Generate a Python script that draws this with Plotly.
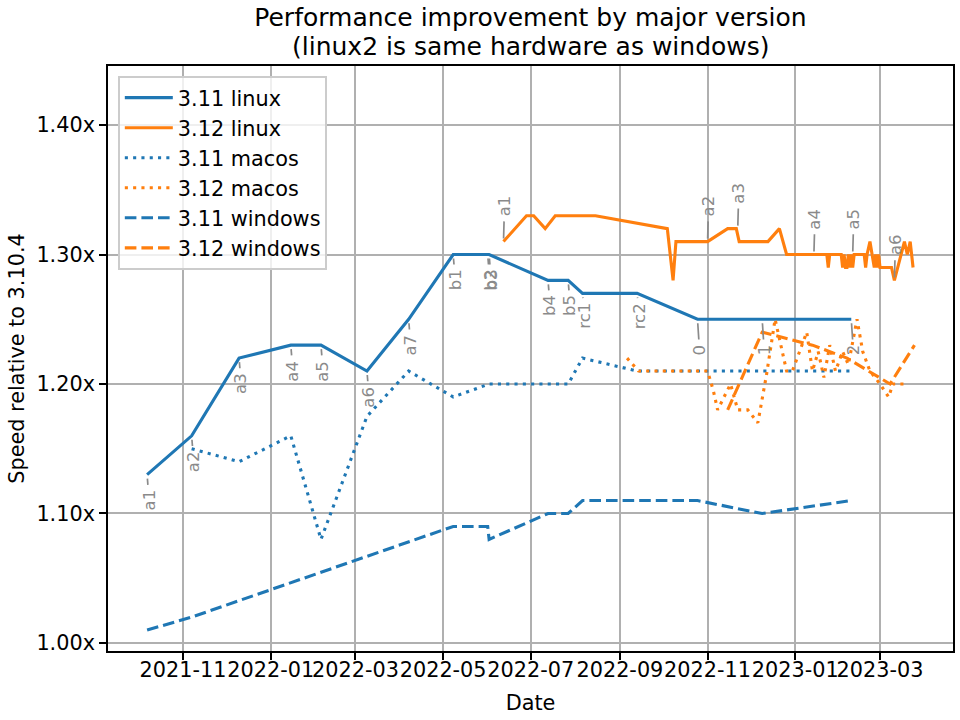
import plotly.graph_objects as go

# ---------------- data ----------------
labels_311 = ["a1", "a2", "a3", "a4", "a5", "a6", "a7", "b1", "b2", "b3",
              "b4", "b5", "rc1", "rc2", "0", "1", "2"]
dates_311 = ["2021-10-07", "2021-11-07", "2021-12-10", "2022-01-15", "2022-02-05",
             "2022-03-09", "2022-04-07", "2022-05-08", "2022-06-01", "2022-06-02",
             "2022-07-13", "2022-07-27", "2022-08-06", "2022-09-13", "2022-10-25",
             "2022-12-09", "2023-02-09"]
linux_311 = [1.13, 1.16, 1.22, 1.23, 1.23, 1.21, 1.25, 1.30, 1.30, 1.30,
             1.28, 1.28, 1.27, 1.27, 1.25, 1.25, 1.25]
macos_311 = [None, 1.15, 1.14, 1.16, 1.08, 1.175, 1.21, 1.19, 1.20, 1.20,
             1.20, 1.20, 1.22, 1.21, 1.21, 1.21, 1.21]
windows_311 = [1.01, 1.02, None, None, None, None, None, 1.09, 1.09, 1.08,
               1.10, 1.10, 1.11, 1.11, 1.11, 1.10, 1.11]

dates_312_linux = ["2022-06-12", "2022-06-28", "2022-07-03", "2022-07-11", "2022-07-18",
                   "2022-08-15", "2022-10-04", "2022-10-08", "2022-10-10", "2022-11-01",
                   "2022-11-15", "2022-11-21", "2022-11-23", "2022-12-13", "2022-12-21",
                   "2022-12-26", "2023-01-23", "2023-01-24", "2023-01-25", "2023-02-02",
                   "2023-02-03", "2023-02-04", "2023-02-05", "2023-02-06", "2023-02-07",
                   "2023-02-08", "2023-02-09", "2023-02-10", "2023-02-11", "2023-02-18",
                   "2023-02-19", "2023-02-20", "2023-02-22", "2023-02-25", "2023-02-26",
                   "2023-02-27", "2023-02-28", "2023-03-01", "2023-03-09", "2023-03-11",
                   "2023-03-18", "2023-03-20", "2023-03-22", "2023-03-24"]
linux_312 = [1.31, 1.33, 1.33, 1.32, 1.33, 1.33, 1.32, 1.28, 1.31, 1.31,
             1.32, 1.32, 1.31, 1.31, 1.32, 1.30, 1.30, 1.29, 1.30, 1.30,
             1.29, 1.30, 1.29, 1.29, 1.30, 1.29, 1.30, 1.29, 1.30, 1.30,
             1.29, 1.30, 1.31, 1.29, 1.30, 1.29, 1.30, 1.29, 1.29, 1.28,
             1.31, 1.30, 1.31, 1.29]

dates_312_macos = ["2022-09-06", "2022-09-10", "2022-09-14", "2022-11-01", "2022-11-05",
                   "2022-11-08", "2022-11-17", "2022-11-22", "2022-11-29", "2022-12-06",
                   "2022-12-12", "2022-12-18", "2022-12-26", "2022-12-30", "2023-01-09",
                   "2023-01-13", "2023-01-17", "2023-01-21", "2023-01-25", "2023-01-29",
                   "2023-02-03", "2023-02-07", "2023-02-13", "2023-02-17", "2023-02-22",
                   "2023-03-01", "2023-03-07", "2023-03-10", "2023-03-18"]
macos_312 = [1.22, 1.215, 1.21, 1.21, 1.195, 1.18, 1.20, 1.18, 1.18, 1.17,
             1.207, 1.25, 1.21, 1.21, 1.24, 1.21, 1.225, 1.205, 1.23, 1.21,
             1.225, 1.215, 1.25, 1.225, 1.21, 1.20, 1.19, 1.20, 1.20]

dates_312_windows = ["2022-11-15", "2022-12-09", "2023-01-13", "2023-02-06",
                     "2023-03-08", "2023-03-25"]
windows_312 = [1.18, 1.24, 1.23, 1.22, 1.20, 1.23]

labels_312 = ["a1", "a2", "a3", "a4", "a5", "a6"]
label_dates_312 = ["2022-06-12", "2022-11-01", "2022-11-22", "2023-01-14",
                   "2023-02-10", "2023-03-11"]
label_values_312 = [1.31, 1.31, 1.32, 1.30, 1.30, 1.28]

title_line1 = "Performance improvement by major version"
title_line2 = "(linux2 is same hardware as windows)"

# ---------------- style ----------------
C0 = "#1f77b4"
C1 = "#ff7f0e"
LW = 3.1
DOT = "3.1px,5.2px"
DASH = "11.6px,5px"
FONT = "DejaVu Sans"
GRAY = "#8a8a8a"
ANN_SIZE = 16.5
CHAR_W = {"a": 0.613, "b": 0.635, "r": 0.411, "c": 0.550}


def text_len(s):
    return sum(CHAR_W.get(ch, 0.636) for ch in s) * ANN_SIZE


fig = go.Figure()
fig.add_trace(go.Scatter(x=dates_311, y=linux_311, name="3.11 linux", mode="lines",
                         line=dict(color=C0, width=LW)))
fig.add_trace(go.Scatter(x=dates_312_linux, y=linux_312, name="3.12 linux", mode="lines",
                         line=dict(color=C1, width=LW)))
fig.add_trace(go.Scatter(x=dates_311, y=macos_311, name="3.11 macos", mode="lines",
                         connectgaps=True, line=dict(color=C0, width=LW, dash=DOT)))
fig.add_trace(go.Scatter(x=dates_312_macos, y=macos_312, name="3.12 macos", mode="lines",
                         line=dict(color=C1, width=LW, dash=DOT)))
fig.add_trace(go.Scatter(x=dates_311, y=windows_311, name="3.11 windows", mode="lines",
                         connectgaps=True, line=dict(color=C0, width=LW, dash=DASH)))
fig.add_trace(go.Scatter(x=dates_312_windows, y=windows_312, name="3.12 windows", mode="lines",
                         line=dict(color=C1, width=LW, dash=DASH)))

annotations = []
# 3.11 labels: text below the point, its lower end ~36px under the point
for lab, d, v in zip(labels_311, dates_311, linux_311):
    annotations.append(dict(x=d, y=v, xref="x", yref="y", text=lab, textangle=-90,
                            showarrow=True, arrowhead=0, arrowwidth=1.7, arrowcolor=GRAY,
                            ax=2, ay=36 - text_len(lab) / 2, standoff=4, borderpad=5,
                            borderwidth=0,
                            font=dict(family=FONT, size=ANN_SIZE, color=GRAY)))
# 3.12 labels: text above the point, its upper end ~46px over the point
for lab, d, v in zip(labels_312, label_dates_312, label_values_312):
    annotations.append(dict(x=d, y=v, xref="x", yref="y", text=lab, textangle=-90,
                            showarrow=True, arrowhead=0, arrowwidth=1.7, arrowcolor=GRAY,
                            ax=1, ay=-(46 - text_len(lab) / 2), standoff=3, borderpad=5,
                            borderwidth=0,
                            font=dict(family=FONT, size=ANN_SIZE, color=GRAY)))
# second title line
annotations.append(dict(text=title_line2, xref="paper", yref="paper", x=0.5, y=1,
                        xanchor="center", yanchor="bottom", yshift=3, showarrow=False,
                        font=dict(family=FONT, size=25, color="black")))

axis_common = dict(showline=True, linecolor="black", linewidth=1.67, mirror=True,
                   ticks="outside", ticklen=7, tickwidth=1.67, tickcolor="black",
                   showgrid=True, gridcolor="#b0b0b0", gridwidth=1.67, zeroline=False,
                   tickfont=dict(family=FONT, size=20.8, color="black"),
                   automargin=False, tickangle=0)

fig.update_layout(
    width=960, height=720, autosize=False,
    margin=dict(l=108, r=7, t=66, b=69),
    paper_bgcolor="white", plot_bgcolor="white",
    font=dict(family=FONT, size=20.8, color="black"),
    title=dict(text=title_line1,
               font=dict(family=FONT, size=25, color="black"),
               x=0.5, xref="paper", xanchor="center",
               y=1 - 8 / 720, yref="container", yanchor="top"),
    xaxis=dict(type="date", range=["2021-09-09 19:00", "2023-04-20 19:00"],
               tick0="2021-11-01", dtick="M2", tickformat="%Y-%m",
               ticklabelstandoff=-8,
               title=dict(text="Date", font=dict(family=FONT, size=20.8), standoff=15),
               **axis_common),
    yaxis=dict(range=[0.9938, 1.4456], tick0=1.0, dtick=0.1, tickformat=".2f", ticksuffix="x",
               ticklabelstandoff=0,
               title=dict(text="Speed relative to 3.10.4", font=dict(family=FONT, size=20.8), standoff=6),
               **axis_common),
    legend=dict(x=0.012, y=0.983, xanchor="left", yanchor="top", itemwidth=48,
                bgcolor="rgba(255,255,255,0.8)", bordercolor="#cccccc", borderwidth=1.67,
                font=dict(family=FONT, size=20.8, color="black")),
    annotations=annotations,
)

fig.write_html("out.html", config={"displayModeBar": False},
               post_script="document.body.style.margin='0px';")
